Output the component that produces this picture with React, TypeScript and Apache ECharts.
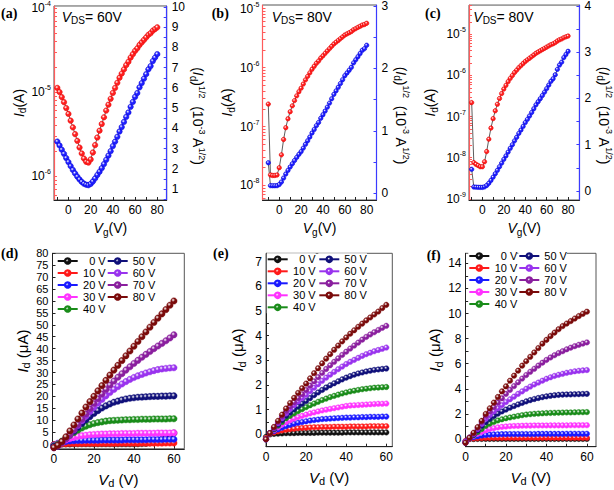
import React, { useEffect, useRef } from "react";
import * as echarts from "echarts";

const FONT = "'Liberation Sans', Arial, sans-serif";
const SERIF = "'Liberation Serif', 'Times New Roman', serif";

// ---------- transfer curves (a)-(c): Vg in V ----------
const vgT = [-10, -8, -6, -4, -2, 0, 2, 4, 6, 8, 10, 12, 14, 16, 18, 20, 22, 24, 26, 28, 30, 32, 34, 36, 38, 40, 42, 44, 46, 48, 50, 52, 54, 56, 58, 60, 62, 64, 66, 68, 70, 72, 74, 76, 78, 80];

// (a) Id in A, and (Id)^1/2 in 1e-3 A^1/2
const idA = [1.12e-5, 1.0e-5, 8.71e-6, 7.59e-6, 6.46e-6, 5.5e-6, 4.57e-6, 3.8e-6, 3.16e-6, 2.63e-6, 2.19e-6, 1.86e-6, 1.62e-6, 1.48e-6, 1.45e-6, 1.58e-6, 1.91e-6, 2.34e-6, 2.88e-6, 3.47e-6, 4.17e-6, 5.01e-6, 6.03e-6, 7.08e-6, 8.32e-6, 9.77e-6, 1.12e-5, 1.29e-5, 1.48e-5, 1.66e-5, 1.86e-5, 2.09e-5, 2.29e-5, 2.57e-5, 2.82e-5, 3.09e-5, 3.31e-5, 3.63e-5, 3.89e-5, 4.17e-5, 4.47e-5, 4.79e-5, 5.01e-5, 5.37e-5, 5.62e-5, 5.89e-5];
const sqA = [3.35, 3.16, 2.95, 2.75, 2.54, 2.34, 2.14, 1.95, 1.78, 1.62, 1.48, 1.36, 1.27, 1.22, 1.2, 1.26, 1.38, 1.53, 1.7, 1.86, 2.04, 2.24, 2.45, 2.66, 2.88, 3.13, 3.35, 3.59, 3.85, 4.07, 4.32, 4.57, 4.79, 5.07, 5.31, 5.56, 5.75, 6.03, 6.24, 6.46, 6.68, 6.92, 7.08, 7.33, 7.5, 7.67];

// (b)
const idB = [2.4e-7, 1.51e-8, 1.48e-8, 1.48e-8, 1.51e-8, 2.0e-8, 3.31e-8, 6.03e-8, 9.55e-8, 1.35e-7, 1.78e-7, 2.24e-7, 2.75e-7, 3.31e-7, 3.89e-7, 4.47e-7, 5.25e-7, 6.17e-7, 7.08e-7, 8.13e-7, 9.33e-7, 1.05e-6, 1.18e-6, 1.29e-6, 1.45e-6, 1.58e-6, 1.74e-6, 1.91e-6, 2.09e-6, 2.29e-6, 2.51e-6, 2.69e-6, 2.88e-6, 3.09e-6, 3.31e-6, 3.55e-6, 3.72e-6, 3.89e-6, 4.07e-6, 4.37e-6, 4.57e-6, 4.79e-6, 5.01e-6, 5.25e-6, 5.37e-6, 5.62e-6];
const sqB = [0.49, 0.123, 0.122, 0.122, 0.123, 0.141, 0.182, 0.245, 0.309, 0.367, 0.422, 0.473, 0.525, 0.575, 0.624, 0.668, 0.724, 0.785, 0.841, 0.902, 0.966, 1.023, 1.084, 1.135, 1.202, 1.259, 1.318, 1.38, 1.445, 1.514, 1.585, 1.641, 1.698, 1.758, 1.82, 1.884, 1.928, 1.972, 2.018, 2.089, 2.138, 2.188, 2.239, 2.291, 2.317, 2.371];

// (c)
const idC = [2.19e-7, 7.59e-9, 6.92e-9, 6.46e-9, 6.03e-9, 6.03e-9, 7.94e-9, 1.41e-8, 2.82e-8, 5.25e-8, 8.91e-8, 1.38e-7, 2.0e-7, 2.75e-7, 3.63e-7, 4.68e-7, 5.75e-7, 7.08e-7, 8.51e-7, 1.0e-6, 1.18e-6, 1.35e-6, 1.55e-6, 1.74e-6, 1.95e-6, 2.19e-6, 2.4e-6, 2.63e-6, 2.88e-6, 3.16e-6, 3.47e-6, 3.72e-6, 3.98e-6, 4.27e-6, 4.57e-6, 4.9e-6, 5.25e-6, 5.62e-6, 5.89e-6, 6.31e-6, 6.92e-6, 7.41e-6, 7.76e-6, 8.32e-6, 8.71e-6, 9.12e-6];
const sqC = [0.468, 0.087, 0.083, 0.08, 0.078, 0.078, 0.089, 0.119, 0.168, 0.229, 0.299, 0.372, 0.447, 0.525, 0.603, 0.684, 0.759, 0.841, 0.923, 1.0, 1.084, 1.161, 1.245, 1.318, 1.396, 1.479, 1.549, 1.622, 1.698, 1.778, 1.862, 1.928, 1.995, 2.065, 2.138, 2.213, 2.291, 2.371, 2.427, 2.512, 2.63, 2.723, 2.786, 2.884, 2.951, 3.02];

const vdsLabels = ["60V", "80V", "80V"];

// ---------- output curves (d)-(f): Vd in V, Id in µA ----------
const vd = [0, 2, 4, 6, 8, 10, 12, 14, 16, 18, 20, 22, 24, 26, 28, 30, 32, 34, 36, 38, 40, 42, 44, 46, 48, 50, 52, 54, 56, 58, 60];
const gateLabels = ["0 V", "10 V", "20 V", "30 V", "40 V", "50 V", "60 V", "70 V", "80 V"];

// (d) rows: Vg = 0..80 V
const outD = [
  [-0.3, 0, 0, 0.05, 0.05, 0.1, 0.1, 0.1, 0.1, 0.1, 0.1, 0.1, 0.1, 0.1, 0.1, 0.1, 0.1, 0.1, 0.1, 0.1, 0.1, 0.15, 0.2, 0.3, 0.5, 0.8, 1.3, 1.9, 2.7, 3.6, 4.6],
  [-0.3, 0, 0.1, 0.15, 0.2, 0.2, 0.25, 0.25, 0.3, 0.3, 0.3, 0.3, 0.3, 0.3, 0.3, 0.3, 0.35, 0.35, 0.35, 0.35, 0.35, 0.35, 0.4, 0.4, 0.4, 0.4, 0.4, 0.4, 0.45, 0.45, 0.45],
  [-0.5, 0.3, 0.8, 1.1, 1.3, 1.4, 1.5, 1.5, 1.6, 1.6, 1.6, 1.6, 1.7, 1.7, 1.7, 1.7, 1.7, 1.7, 1.8, 1.8, 1.8, 1.8, 1.8, 1.8, 1.9, 1.9, 1.9, 1.9, 2.0, 2.0, 2.0],
  [-0.6, 0.2, 1.0, 1.7, 2.3, 2.8, 3.2, 3.5, 3.7, 3.9, 4.0, 4.1, 4.2, 4.2, 4.3, 4.3, 4.3, 4.4, 4.4, 4.4, 4.4, 4.5, 4.5, 4.5, 4.5, 4.5, 4.6, 4.6, 4.6, 4.6, 4.7],
  [-0.8, 0, 1.2, 2.5, 3.7, 4.8, 5.8, 6.7, 7.5, 8.1, 8.6, 9.0, 9.3, 9.6, 9.8, 9.9, 10.0, 10.1, 10.2, 10.2, 10.3, 10.3, 10.4, 10.4, 10.4, 10.5, 10.5, 10.5, 10.5, 10.6, 10.6],
  [-1, -0.4, 0.8, 2.2, 3.8, 5.4, 7, 8.6, 10.1, 11.5, 12.8, 14, 15.1, 16, 16.8, 17.5, 18, 18.5, 18.9, 19.2, 19.4, 19.6, 19.7, 19.8, 19.9, 20, 20, 20.1, 20.1, 20.2, 20.2],
  [-1.5, -0.8, 0.5, 2.2, 4, 5.9, 7.8, 9.8, 11.7, 13.6, 15.4, 17.1, 18.7, 20.2, 21.6, 22.9, 24.1, 25.2, 26.2, 27.1, 27.9, 28.6, 29.2, 29.8, 30.3, 30.8, 31.2, 31.5, 31.7, 31.9, 32],
  [-1.5, -0.8, 0.5, 2.2, 4, 6, 8.2, 10.4, 12.6, 14.8, 17, 19, 21, 22.9, 24.7, 26.4, 28, 29.5, 31, 32.4, 33.8, 35.1, 36.4, 37.6, 38.8, 40, 41.1, 42.2, 43.3, 44.5, 45.8],
  [-1.5, -0.5, 1, 3, 5.5, 8, 10.5, 13, 15.5, 17.8, 20, 22.3, 24.5, 26.7, 28.9, 31, 33, 35, 37, 39, 41, 43, 45, 47, 49, 51, 52.8, 54.6, 56.4, 58.2, 60],
];

// (e)
const outE = [
  [-0.1, 0, 0.02, 0.03, 0.04, 0.05, 0.05, 0.05, 0.06, 0.06, 0.06, 0.06, 0.06, 0.07, 0.07, 0.07, 0.07, 0.07, 0.07, 0.07, 0.08, 0.08, 0.08, 0.08, 0.08, 0.08, 0.08, 0.08, 0.08, 0.08, 0.08],
  [-0.15, 0.03, 0.08, 0.12, 0.16, 0.19, 0.21, 0.23, 0.25, 0.26, 0.27, 0.28, 0.29, 0.29, 0.3, 0.3, 0.3, 0.31, 0.31, 0.31, 0.31, 0.32, 0.32, 0.32, 0.32, 0.32, 0.33, 0.33, 0.33, 0.33, 0.33],
  [-0.2, 0.05, 0.13, 0.2, 0.27, 0.33, 0.38, 0.43, 0.47, 0.5, 0.53, 0.56, 0.58, 0.6, 0.62, 0.63, 0.64, 0.65, 0.66, 0.67, 0.68, 0.68, 0.69, 0.69, 0.7, 0.7, 0.71, 0.71, 0.71, 0.72, 0.72],
  [-0.2, 0.05, 0.17, 0.28, 0.4, 0.5, 0.57, 0.64, 0.7, 0.75, 0.8, 0.85, 0.89, 0.93, 0.97, 1.0, 1.03, 1.06, 1.09, 1.12, 1.15, 1.17, 1.18, 1.19, 1.2, 1.21, 1.22, 1.23, 1.24, 1.24, 1.25],
  [-0.2, 0.05, 0.2, 0.35, 0.5, 0.65, 0.75, 0.85, 0.94, 1.02, 1.1, 1.18, 1.25, 1.32, 1.39, 1.45, 1.51, 1.56, 1.61, 1.66, 1.7, 1.74, 1.77, 1.8, 1.83, 1.85, 1.87, 1.89, 1.9, 1.91, 1.92],
  [-0.2, 0.05, 0.22, 0.4, 0.58, 0.75, 0.88, 1.01, 1.13, 1.24, 1.35, 1.47, 1.59, 1.7, 1.8, 1.9, 1.99, 2.07, 2.15, 2.23, 2.3, 2.36, 2.42, 2.47, 2.51, 2.55, 2.58, 2.61, 2.63, 2.65, 2.67],
  [-0.2, 0.05, 0.25, 0.45, 0.65, 0.85, 1.02, 1.18, 1.33, 1.47, 1.6, 1.75, 1.89, 2.03, 2.17, 2.3, 2.42, 2.53, 2.64, 2.75, 2.85, 2.94, 3.02, 3.1, 3.18, 3.25, 3.31, 3.37, 3.42, 3.47, 3.52],
  [-0.2, 0.05, 0.28, 0.5, 0.73, 0.95, 1.13, 1.3, 1.47, 1.63, 1.8, 1.98, 2.15, 2.32, 2.49, 2.65, 2.8, 2.94, 3.08, 3.22, 3.35, 3.48, 3.6, 3.72, 3.84, 3.95, 4.05, 4.14, 4.23, 4.32, 4.4],
  [-0.2, 0.05, 0.3, 0.55, 0.8, 1.05, 1.27, 1.48, 1.68, 1.87, 2.06, 2.27, 2.48, 2.68, 2.88, 3.07, 3.25, 3.43, 3.6, 3.77, 3.93, 4.08, 4.22, 4.36, 4.49, 4.62, 4.74, 4.86, 4.98, 5.12, 5.25],
];

// (f)
const outF = [
  [-0.2, 0, 0, 0.01, 0.01, 0.01, 0.01, 0.01, 0.01, 0.01, 0.01, 0.01, 0.01, 0.01, 0.01, 0.01, 0.01, 0.01, 0.01, 0.01, 0.01, 0.01, 0.01, 0.01, 0.01, 0.01, 0.01, 0.01, 0.01, 0.01, 0.01],
  [-0.15, 0.02, 0.05, 0.07, 0.08, 0.09, 0.09, 0.1, 0.1, 0.1, 0.1, 0.1, 0.1, 0.1, 0.1, 0.1, 0.1, 0.1, 0.1, 0.1, 0.1, 0.1, 0.1, 0.1, 0.1, 0.1, 0.1, 0.1, 0.1, 0.1, 0.1],
  [-0.2, 0.05, 0.15, 0.22, 0.28, 0.32, 0.35, 0.37, 0.38, 0.39, 0.39, 0.4, 0.4, 0.4, 0.4, 0.4, 0.4, 0.4, 0.41, 0.41, 0.41, 0.41, 0.41, 0.41, 0.41, 0.42, 0.42, 0.42, 0.42, 0.42, 0.42],
  [-0.25, 0.1, 0.25, 0.42, 0.57, 0.7, 0.8, 0.87, 0.93, 0.97, 1.0, 1.02, 1.04, 1.05, 1.06, 1.07, 1.07, 1.08, 1.08, 1.08, 1.08, 1.09, 1.09, 1.09, 1.09, 1.09, 1.1, 1.1, 1.1, 1.1, 1.1],
  [-0.3, 0.1, 0.3, 0.55, 0.8, 1.05, 1.22, 1.36, 1.48, 1.57, 1.65, 1.72, 1.78, 1.84, 1.9, 1.95, 1.98, 2.01, 2.03, 2.05, 2.07, 2.08, 2.09, 2.1, 2.11, 2.12, 2.12, 2.13, 2.14, 2.14, 2.15],
  [-0.3, 0.1, 0.35, 0.7, 1.05, 1.35, 1.6, 1.82, 2.02, 2.2, 2.35, 2.5, 2.63, 2.76, 2.88, 3.0, 3.1, 3.19, 3.27, 3.34, 3.4, 3.45, 3.49, 3.52, 3.54, 3.55, 3.56, 3.57, 3.58, 3.59, 3.6],
  [-0.3, 0.1, 0.4, 0.8, 1.2, 1.6, 1.9, 2.2, 2.45, 2.7, 2.95, 3.17, 3.38, 3.6, 3.8, 4.0, 4.18, 4.35, 4.5, 4.65, 4.8, 4.92, 5.03, 5.12, 5.2, 5.28, 5.34, 5.4, 5.44, 5.47, 5.5],
  [-0.3, 0.1, 0.45, 0.9, 1.35, 1.85, 2.2, 2.55, 2.9, 3.25, 3.6, 3.92, 4.22, 4.52, 4.82, 5.1, 5.36, 5.6, 5.85, 6.08, 6.3, 6.5, 6.68, 6.85, 7.0, 7.15, 7.28, 7.4, 7.51, 7.61, 7.7],
  [-0.3, 0.1, 0.5, 0.95, 1.45, 2.0, 2.45, 2.9, 3.35, 3.8, 4.2, 4.65, 5.05, 5.45, 5.85, 6.2, 6.55, 6.9, 7.25, 7.6, 7.9, 8.2, 8.48, 8.75, 9.0, 9.2, 9.4, 9.6, 9.8, 9.98, 10.15],
];

// ---------- styling ----------
const gateColors = ["#111111", "#ff1a1a", "#1a1aff", "#ff33ff", "#1a8c1a", "#10107a", "#9933ee", "#8a1f9e", "#7a0a0a"];
const RED_AX = "#ff5b5b";
const BLUE_AX = "#3b3bff";

const range = (a: number, b: number, s: number) => {
  const r: number[] = [];
  for (let v = a; v <= b + 1e-9; v += s) r.push(Math.round(v * 1000) / 1000);
  return r;
};
const logTicks = (min: number, max: number) => {
  const r: number[] = [];
  for (let d = Math.floor(min); d <= Math.ceil(max); d++)
    for (let k = 1; k <= 9; k++) {
      const v = d + Math.log10(k);
      if (v >= min - 1e-9 && v <= max + 1e-9) r.push(v);
    }
  return r;
};

const ball = (c: string) => ({
  type: "radial",
  x: 0.38,
  y: 0.35,
  r: 0.65,
  colorStops: [
    { offset: 0, color: "#ffffff" },
    { offset: 0.45, color: c },
    { offset: 1, color: c },
  ],
});

const rich = (size: number) => ({
  n: { fontSize: size, fontFamily: FONT, color: "#000", lineHeight: size + 4 },
  i: { fontSize: size, fontFamily: FONT, fontStyle: "italic", color: "#000", lineHeight: size + 4 },
  s: { fontSize: size - 4, fontFamily: FONT, color: "#000", lineHeight: size - 5, verticalAlign: "bottom" },
  p: { fontSize: size - 5, fontFamily: FONT, color: "#000", lineHeight: size - 6, verticalAlign: "top" },
});

const TICK = 12;

const grids = [
  { left: 54, top: 5, width: 112.7, height: 195 },
  { left: 262.5, top: 5, width: 114, height: 195 },
  { left: 469, top: 5, width: 111, height: 195 },
  { left: 52.5, top: 253.3, width: 131.8, height: 195.5 },
  { left: 266, top: 253.3, width: 126.3, height: 193.4 },
  { left: 465.5, top: 253.3, width: 130.5, height: 193.4 },
].map((g) => ({ ...g, show: true, borderColor: "#555", borderWidth: 1, backgroundColor: "transparent" }));

const baseLabel = { color: "#000", fontSize: TICK, fontFamily: FONT };

const xAxisT = (gi: number, min: number, max: number) => ({
  type: "value",
  gridIndex: gi,
  min,
  max,
  position: "bottom",
  axisLine: { show: true, onZero: false, lineStyle: { color: "#222", width: 1 } },
  axisTick: { show: true, inside: true, length: 3, customValues: range(-10, 80, 10), lineStyle: { color: "#222" } },
  axisLabel: { ...baseLabel, customValues: range(0, 80, 20), margin: 4 },
  splitLine: { show: false },
  name: "{i|V}{s|g}{n|(V)}",
  nameLocation: "middle",
  nameGap: 19,
  nameTextStyle: { rich: rich(14) },
});

const xAxisO = (gi: number, min: number, max: number) => ({
  type: "value",
  gridIndex: gi,
  min,
  max,
  position: "bottom",
  axisLine: { show: true, onZero: false, lineStyle: { color: "#222", width: 1 } },
  axisTick: { show: true, inside: true, length: 3, customValues: range(0, 60, 10), lineStyle: { color: "#222" } },
  axisLabel: { ...baseLabel, customValues: range(0, 60, 20), margin: 4 },
  splitLine: { show: false },
  name: "{i|V}{s|d}{n| (V)}",
  nameLocation: "middle",
  nameGap: 21,
  nameTextStyle: { rich: rich(15) },
});

const logY = (gi: number, min: number, max: number, gap: number) => ({
  type: "value",
  gridIndex: gi,
  min,
  max,
  position: "left",
  axisLine: { show: true, onZero: false, lineStyle: { color: RED_AX, width: 1.2 } },
  axisTick: { show: true, inside: true, length: 3, customValues: logTicks(min, max), lineStyle: { color: RED_AX } },
  axisLabel: {
    ...baseLabel,
    margin: 3,
    customValues: range(Math.ceil(min - 0.05), Math.floor(max), 1),
    formatter: (v: number) => `{n|10}{p|${Math.round(v)}}`,
    rich: rich(TICK),
  },
  splitLine: { show: false },
  name: "{i|I}{s|d}{n|(A)}",
  nameLocation: "middle",
  nameRotate: 90,
  nameGap: gap,
  nameTextStyle: { rich: rich(14) },
});

const sqY = (gi: number, min: number, max: number, top: number, gap: number) => ({
  type: "value",
  gridIndex: gi,
  min,
  max,
  position: "right",
  axisLine: { show: true, onZero: false, lineStyle: { color: BLUE_AX, width: 1.2 } },
  axisTick: { show: true, inside: true, length: 3, customValues: range(Math.ceil(min * 2) / 2, top, 0.5), lineStyle: { color: BLUE_AX } },
  axisLabel: { ...baseLabel, margin: 5, customValues: range(Math.ceil(min), top, 1) },
  splitLine: { show: false },
  name: "{n|(}{i|I}{s|d}{n|)}{p|1/2}{n|  (10}{p|-3}{n| A}{p|1/2}{n|)}",
  nameLocation: "middle",
  nameRotate: -90,
  nameGap: gap,
  nameTextStyle: { rich: rich(14), padding: [0, 0, 0, 26] },
});

const outY = (gi: number, min: number, max: number, labels: number[], ticks: number[], gap: number, fs: number) => ({
  type: "value",
  gridIndex: gi,
  min,
  max,
  position: "left",
  axisLine: { show: true, onZero: false, lineStyle: { color: "#222", width: 1 } },
  axisTick: { show: true, inside: true, length: 3, customValues: ticks, lineStyle: { color: "#222" } },
  axisLabel: { ...baseLabel, fontSize: fs, lineHeight: fs, margin: 4, customValues: labels },
  splitLine: { show: false },
  name: "{i|I}{s|d}{n| (μA)}",
  nameLocation: "middle",
  nameRotate: 90,
  nameGap: gap,
  nameTextStyle: { rich: rich(15) },
});

const xAxes = [
  xAxisT(0, -13, 88.5),
  xAxisT(1, -15.3, 89),
  xAxisT(2, -12.5, 90.6),
  xAxisO(3, -0.7, 65.2),
  xAxisO(4, 0, 63),
  xAxisO(5, 0, 64.5),
];

const yAxes = [
  logY(0, -6.284, -3.976, 22),
  sqY(0, 0.466, 10.05, 10, 17),
  logY(1, -8.246, -4.94, 23),
  sqY(1, -0.107, 3.016, 3, 12),
  logY(2, -9.03, -4.287, 30),
  sqY(2, -0.195, 4.02, 4, 11),
  outY(3, -2, 80, range(0, 80, 5), range(0, 80, 5), 21, 11),
  outY(4, -0.5, 7.34, range(0, 7, 1), range(0, 7, 0.5), 19, TICK),
  outY(5, -0.61, 14.8, range(0, 14, 2), range(0, 14, 1), 18, TICK),
];

const transferSets = [
  { id: idA, sq: sqA, size: 5.5 },
  { id: idB, sq: sqB, size: 4.5 },
  { id: idC, sq: sqC, size: 4.5 },
];

const series: any[] = [];
transferSets.forEach((t, p) => {
  series.push({
    type: "line",
    name: `Id ${p}`,
    xAxisIndex: p,
    yAxisIndex: p * 2,
    data: vgT.map((v, j) => [v, Math.log10(t.id[j])]),
    symbol: "circle",
    symbolSize: t.size,
    itemStyle: { color: ball("#ff2020"), borderColor: "#e00000", borderWidth: 0.5 },
    lineStyle: { color: "#333", width: 0.8 },
    z: 3,
  });
  series.push({
    type: "line",
    name: `sqrt ${p}`,
    xAxisIndex: p,
    yAxisIndex: p * 2 + 1,
    data: vgT.map((v, j) => [v, t.sq[j]]),
    symbol: "circle",
    symbolSize: t.size,
    itemStyle: { color: ball("#2020ff"), borderColor: "#0000d0", borderWidth: 0.5 },
    lineStyle: { color: "#333", width: 0.8 },
    z: 3,
  });
});

const outSets = [outD, outE, outF];
const outSizes = [6.5, 5.5, 5.5];
outSets.forEach((set, p) => {
  set.forEach((arr, g) => {
    series.push({
      type: "line",
      name: gateLabels[g],
      xAxisIndex: 3 + p,
      yAxisIndex: 6 + p,
      data: vd.map((x, j) => [x, arr[j]]),
      symbol: "circle",
      symbolSize: outSizes[p],
      itemStyle: { color: ball(gateColors[g]), borderColor: gateColors[g], borderWidth: 0.4 },
      lineStyle: { color: gateColors[g], width: 1 },
      z: 3 + g * 0.01,
    });
  });
});

const legendPos = [
  { l1: 56.7, l2: 106.7, top: 255 },
  { l1: 266.7, l2: 318.3, top: 253.3 },
  { l1: 468.3, l2: 518.3, top: 250 },
];
const legends: any[] = [];
legendPos.forEach((lp) => {
  const common = {
    orient: "vertical",
    top: lp.top,
    itemWidth: 20,
    itemHeight: 7,
    itemGap: 0,
    padding: 0,
    backgroundColor: "#fff",
    selectedMode: false,
    textStyle: { color: "#000", fontSize: 11, fontFamily: FONT, lineHeight: 12 },
  };
  legends.push({
    ...common,
    left: lp.l1,
    data: gateLabels.slice(0, 5),
    formatter: (n: string) => `{r|${n}}`,
    textStyle: {
      ...common.textStyle,
      rich: { r: { width: 23, align: "right", fontSize: 11, fontFamily: FONT, color: "#000", lineHeight: 12 } },
    },
  });
  legends.push({
    ...common,
    left: lp.l2,
    data: gateLabels.slice(5),
  });
});

const panelTags = [
  { t: "(a)", x: 1, y: 13.3 },
  { t: "(b)", x: 211.7, y: 13.3 },
  { t: "(c)", x: 425, y: 13.3 },
  { t: "(d)", x: 1, y: 253.3 },
  { t: "(e)", x: 213, y: 253.3 },
  { t: "(f)", x: 426.7, y: 255 },
];
const vdsPos = [61.7, 271.7, 473.3];

const graphics: any[] = [
  ...panelTags.map((p) => ({
    type: "text",
    x: p.x,
    y: p.y,
    style: { text: p.t, font: `bold 14px ${SERIF}`, fill: "#000", verticalAlign: "middle" },
    z: 10,
  })),
  ...vdsPos.map((x, i) => ({
    type: "text",
    x,
    y: 16.7,
    style: {
      text: `{i|V}{s|DS}{n|= ${vdsLabels[i]}}`,
      rich: rich(14),
      verticalAlign: "middle",
      fill: "#000",
    },
    z: 10,
  })),
];

export default function App() {
  const ref = useRef<HTMLDivElement>(null);
  useEffect(() => {
    if (!ref.current) return;
    const chart = echarts.init(ref.current, null, { renderer: "svg" });
    chart.setOption({
      animation: false,
      backgroundColor: "#fff",
      grid: grids,
      xAxis: xAxes,
      yAxis: yAxes,
      legend: legends,
      series,
      graphic: graphics,
    } as any);
    return () => chart.dispose();
  }, []);
  return <div ref={ref} style={{ position: "fixed", left: 0, top: 0, width: 614, height: 490 }} />;
}
